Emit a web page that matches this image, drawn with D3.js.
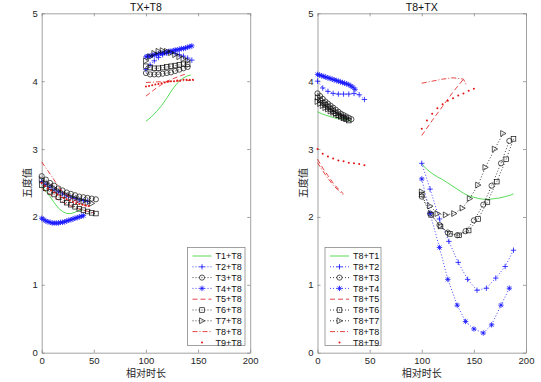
<!DOCTYPE html>
<html><head><meta charset="utf-8">
<script src="https://cdn.jsdelivr.net/npm/d3@7"></script>
<style>
body{margin:0;background:#fff}
svg{display:block}
text{font-family:"Liberation Sans",Arial,Helvetica,sans-serif}
.cjk{font-family:"Noto Sans CJK SC","Noto Sans",sans-serif}
</style>
</head><body><svg id="c" width="541" height="382"></svg>
<script>
// ---------------- data ----------------
const titles = ["TX+T8", "T8+TX"];
const yLabel = "五度值";
const xLabel = "相对时长";
const xTicks = [0, 50, 100, 150, 200];
const yTicks = [0, 1, 2, 3, 4, 5];
const leftNames  = ["T1+T8","T2+T8","T3+T8","T4+T8","T5+T8","T6+T8","T7+T8","T8+T8","T9+T8"];
const rightNames = ["T8+T1","T8+T2","T8+T3","T8+T4","T8+T5","T8+T6","T8+T7","T8+T8","T8+T9"];

// Left panel (TX+T8); null separates the TX part and the T8 part
const L1x = [0,4,8,12,16,20,24,28,32,36,39,null,100,105,110,115,120,125,130,135,140,143];
const L1y = [2.45,2.38,2.30,2.21,2.13,2.08,2.05,2.05,2.07,2.10,2.11,null,3.41,3.47,3.55,3.64,3.75,3.87,3.97,4.04,4.08,4.09];
const L2x = [0,4,8,12,16,20,24,28,32,36,40,44,null,100,104,108,112,116,120,124,128,132,136,140,144];
const L2y = [2.52,2.48,2.44,2.40,2.37,2.34,2.31,2.29,2.27,2.25,2.24,2.23,null,4.17,4.24,4.30,4.35,4.39,4.41,4.42,4.41,4.39,4.37,4.34,4.31];
const L3x = [0,4,8,12,16,20,24,28,32,36,40,44,48,52,null,100,104,108,112,116,120,124,128,132,136,140];
const L3y = [2.60,2.55,2.50,2.46,2.42,2.39,2.36,2.34,2.32,2.30,2.29,2.28,2.27,2.26,null,4.12,4.10,4.10,4.10,4.11,4.12,4.13,4.15,4.17,4.19,4.21];
const L4x = [0,2,4,6,8,10,12,14,16,18,20,22,24,26,28,30,32,34,36,38,40,null,100,102,104,106,108,110,112,114,116,118,120,122,124,126,128,130,132,134,136,138,140,142,144];
const L4y = [1.98,1.96,1.94,1.93,1.92,1.91,1.91,1.91,1.91,1.92,1.92,1.93,1.94,1.95,1.96,1.97,1.98,1.99,2.00,2.01,2.02,null,4.36,4.37,4.37,4.38,4.39,4.39,4.40,4.41,4.41,4.42,4.43,4.44,4.44,4.45,4.46,4.46,4.47,4.48,4.48,4.49,4.50,4.51,4.52];
const L5x = [0,5,10,15,20,25,30,35,40,45,50,null,100,105,110,115,120,125,130,135,140];
const L5y = [2.42,2.36,2.31,2.26,2.22,2.18,2.15,2.12,2.10,2.08,2.06,null,3.78,3.84,3.90,3.95,4.00,4.03,4.06,4.09,4.11];
const L6x = [0,4,8,12,16,20,24,28,32,36,40,44,48,52,null,100,104,108,112,116,120,124,128,132,136,140];
const L6y = [2.47,2.42,2.37,2.33,2.29,2.25,2.21,2.18,2.15,2.12,2.10,2.08,2.06,2.05,null,4.22,4.20,4.19,4.19,4.20,4.21,4.22,4.23,4.24,4.25,4.25];
const L7x = [0,4,8,12,16,20,24,28,32,36,40,44,48,null,100,104,108,112,116,120,124,128,132,136,140];
const L7y = [2.55,2.50,2.46,2.42,2.38,2.35,2.32,2.29,2.27,2.25,2.23,2.21,2.20,null,4.30,4.36,4.41,4.44,4.45,4.44,4.42,4.39,4.36,4.33,4.30];
const L8x = [0,5,10,15,20,25,30,35,40,45,null,100,110,120,130,140,146];
const L8y = [2.81,2.70,2.59,2.47,2.37,2.31,2.26,2.22,2.18,2.15,null,3.98,3.99,3.99,4.00,4.01,4.01];
const L9x = [0,3,6,9,12,15,18,21,24,27,30,33,36,39,42,45,null,100,103,106,109,112,115,118,121,124,127,130,133,136,139,142,145];
const L9y = [2.50,2.46,2.42,2.39,2.36,2.33,2.30,2.28,2.26,2.24,2.22,2.20,2.19,2.18,2.17,2.16,null,3.92,3.93,3.94,3.95,3.96,3.97,3.98,3.99,4.00,4.00,4.01,4.01,4.02,4.02,4.02,4.02];

// Right panel (T8+TX)
const R1x = [0,4,8,12,16,20,24,28,32,null,100,105,110,115,120,125,130,135,140,145,150,155,160,165,170,175,180,185,188];
const R1y = [3.55,3.52,3.50,3.48,3.46,3.45,3.44,3.43,3.42,null,2.78,2.70,2.64,2.59,2.55,2.50,2.45,2.40,2.35,2.31,2.29,2.27,2.26,2.26,2.27,2.28,2.30,2.32,2.34];
const R2x = [0,5,10,15,20,25,30,35,40,45,null,100,108,117,126,135,144,153,162,171,180,188];
const R2y = [4.00,3.90,3.85,3.82,3.81,3.81,3.81,3.82,3.80,3.73,null,2.79,2.41,1.97,1.64,1.33,1.08,0.92,0.95,1.10,1.27,1.51];
const R3x = [0,2.5,5,7.5,10,12.5,15,17.5,20,22.5,25,27.5,30,32.5,null,100,108,117,125,134,142,150,159,167,176,184];
const R3y = [3.82,3.78,3.74,3.70,3.67,3.64,3.61,3.58,3.55,3.52,3.50,3.48,3.46,3.44,null,2.30,2.05,1.88,1.77,1.73,1.79,1.95,2.18,2.46,2.79,3.12];
const R4x = [0,2,4,6,8,10,12,14,16,18,20,22,24,26,28,30,32,34,36,null,100,108,117,125,134,142,150,159,167,176,184];
const R4y = [4.10,4.09,4.08,4.07,4.06,4.05,4.04,4.03,4.02,4.01,4.00,3.99,3.98,3.97,3.96,3.95,3.93,3.91,3.88,null,2.56,2.05,1.55,1.08,0.70,0.46,0.35,0.29,0.41,0.70,0.95];
const R5x = [0,5,10,15,20,25,null,100,110,120,130,140];
const R5y = [2.85,2.72,2.61,2.50,2.41,2.34,null,3.20,3.42,3.63,3.84,4.03];
const R6x = [0,2.5,5,7.5,10,12.5,15,17.5,20,22.5,25,27.5,30,null,100,109,118,127,136,145,154,163,172,181,188];
const R6y = [3.76,3.72,3.68,3.65,3.62,3.59,3.56,3.53,3.50,3.48,3.46,3.44,3.42,null,2.33,2.03,1.86,1.75,1.73,1.80,1.97,2.22,2.52,2.85,3.15];
const R7x = [0,2.5,5,7.5,10,12.5,15,17.5,20,22.5,25,27.5,null,100,108,115,123,131,139,146,154,161,170,178];
const R7y = [3.70,3.67,3.64,3.61,3.59,3.56,3.54,3.52,3.50,3.48,3.46,3.45,null,2.37,2.16,2.05,2.03,2.05,2.13,2.27,2.47,2.73,3.00,3.23];
const R8x = [0,5,10,15,20,24,null,100,110,120,130,140,143];
const R8y = [2.80,2.68,2.57,2.47,2.39,2.33,null,3.97,4.00,4.03,4.05,4.03,3.94];
const R9x = [0,5,10,15,20,25,30,35,40,45,null,100,105,110,115,120,125,130,135,140,145,150];
const R9y = [3.00,2.93,2.89,2.86,2.83,2.82,2.80,2.79,2.78,2.76,null,3.30,3.42,3.52,3.60,3.66,3.71,3.75,3.79,3.82,3.86,3.89];

const leftX  = [L1x,L2x,L3x,L4x,L5x,L6x,L7x,L8x,L9x];
const leftY  = [L1y,L2y,L3y,L4y,L5y,L6y,L7y,L8y,L9y];
const rightX = [R1x,R2x,R3x,R4x,R5x,R6x,R7x,R8x,R9x];
const rightY = [R1y,R2y,R3y,R4y,R5y,R6y,R7y,R8y,R9y];

// ---------------- styles ----------------
const GREEN = "#2fd22f", BLUE = "#1414ff", BLACK = "#111", RED = "#e01515";
const styles = [
  {color:GREEN, dash:null,      marker:null},
  {color:BLUE,  dash:"1,2",     marker:"plus"},
  {color:BLACK, dash:"1,2",     marker:"circle"},
  {color:BLUE,  dash:"1,2",     marker:"star"},
  {color:RED,   dash:"5,3",     marker:null},
  {color:BLACK, dash:"1,2",     marker:"square"},
  {color:BLACK, dash:"1,2",     marker:"tri"},
  {color:RED,   dash:"5,2,1,2", marker:null},
  {color:RED,   dash:"none",    marker:"dot"}
];

const svg = d3.select("#c");
const yScale = d3.scaleLinear().domain([0,5]).range([352.7, 13.3]);
const panels = [
  {x0:41.7, x1:250.2, title:titles[0], names:leftNames,  X:leftX,  Y:leftY,  leg:[187.5, 245]},
  {x0:317.5, x1:526,  title:titles[1], names:rightNames, X:rightX, Y:rightY, leg:[325, 381]}
];
const AX = "#8a8a8a", TXT = "#262626";
const fmt = d3.format("d");

function drawMarker(g, type, color, cx, cy) {
  const s = 2.7;
  if (type === "plus") {
    g.append("path").attr("d", `M${cx-s},${cy}H${cx+s}M${cx},${cy-s}V${cy+s}`)
      .attr("stroke", color).attr("stroke-width", 0.8).attr("fill", "none");
  } else if (type === "star") {
    const a = s*0.72;
    g.append("path").attr("d", `M${cx-s},${cy}H${cx+s}M${cx},${cy-s}V${cy+s}M${cx-a},${cy-a}L${cx+a},${cy+a}M${cx-a},${cy+a}L${cx+a},${cy-a}`)
      .attr("stroke", color).attr("stroke-width", 0.8).attr("fill", "none");
  } else if (type === "circle") {
    g.append("circle").attr("cx", cx).attr("cy", cy).attr("r", 2.6)
      .attr("stroke", color).attr("stroke-width", 0.7).attr("fill", "none");
  } else if (type === "square") {
    g.append("rect").attr("x", cx-2.3).attr("y", cy-2.3).attr("width", 4.6).attr("height", 4.6)
      .attr("stroke", color).attr("stroke-width", 0.7).attr("fill", "none");
  } else if (type === "tri") {
    g.append("path").attr("d", `M${cx-2.4},${cy-2.9}L${cx+2.9},${cy}L${cx-2.4},${cy+2.9}Z`)
      .attr("stroke", color).attr("stroke-width", 0.7).attr("fill", "none");
  } else if (type === "dot") {
    g.append("circle").attr("cx", cx).attr("cy", cy).attr("r", 1.0).attr("fill", color);
  }
}

panels.forEach(p => {
  const x = d3.scaleLinear().domain([0,200]).range([p.x0, p.x1]);
  const g = svg.append("g");
  const y0 = yScale(0), y1 = yScale(5);

  // axes (ticks inside, box on)
  const ax = g.append("g").attr("class", "axes");
  const bottom = ax.append("g").attr("transform", `translate(0,${y0})`)
    .call(d3.axisBottom(x).tickValues(xTicks).tickSize(-3).tickSizeOuter(0).tickPadding(4).tickFormat(fmt));
  ax.append("g").attr("transform", `translate(0,${y1})`)
    .call(d3.axisTop(x).tickValues(xTicks).tickSize(-3).tickSizeOuter(0).tickFormat(""));
  ax.append("g").attr("transform", `translate(${p.x0},0)`)
    .call(d3.axisLeft(yScale).tickValues(yTicks).tickSize(-3).tickSizeOuter(0).tickPadding(4).tickFormat(fmt));
  ax.append("g").attr("transform", `translate(${p.x1},0)`)
    .call(d3.axisRight(yScale).tickValues(yTicks).tickSize(-3).tickSizeOuter(0).tickFormat(""));
  ax.selectAll(".domain").attr("stroke", AX).attr("stroke-width", 0.8);
  ax.selectAll(".tick line").attr("stroke", AX).attr("stroke-width", 0.8);
  ax.selectAll(".tick text").attr("fill", TXT).style("font-size", "9.5px")
    .style("font-family", '"Liberation Sans",Arial,Helvetica,sans-serif');
  bottom.selectAll(".tick text").attr("dy", "0.75em");

  // series
  const line = d3.line().defined(d => d[1] !== null).x(d => x(d[0])).y(d => yScale(d[1]));
  p.X.forEach((xs, i) => {
    const st = styles[i];
    const pts = xs.map((v, k) => [v, p.Y[i][k]]);
    if (st.dash !== "none") {
      g.append("path").datum(pts).attr("d", line).attr("fill", "none")
        .attr("stroke", st.color).attr("stroke-width", 0.8)
        .attr("stroke-dasharray", st.dash);
    }
    if (st.marker) {
      const mg = g.append("g");
      pts.filter(d => d[1] !== null).forEach(d => drawMarker(mg, st.marker, st.color, x(d[0]), yScale(d[1])));
    }
  });

  // title
  g.append("text").attr("x", (p.x0+p.x1)/2).attr("y", 10.5).attr("text-anchor", "middle")
    .attr("fill", "#111").style("font-size", "10.5px").text(p.title);
  // x label
  g.append("text").attr("class", "cjk").attr("x", (p.x0+p.x1)/2).attr("y", 377).attr("text-anchor", "middle")
    .attr("fill", TXT).style("font-size", "10px").text(xLabel);
  // y label
  g.append("text").attr("class", "cjk")
    .attr("transform", `translate(${p.x0-11},${(y0+y1)/2}) rotate(-90)`)
    .attr("text-anchor", "middle").attr("fill", TXT).style("font-size", "10px").text(yLabel);

  // legend
  const [lx0, lx1] = p.leg;
  const ly0 = 247.5, ly1 = 345.5, rowH = 10.8, firstRow = 256;
  const lg = g.append("g");
  lg.append("rect").attr("x", lx0).attr("y", ly0).attr("width", lx1-lx0).attr("height", ly1-ly0)
    .attr("fill", "#fff").attr("stroke", AX).attr("stroke-width", 0.8);
  p.names.forEach((nm, i) => {
    const st = styles[i];
    const cy = firstRow + i*rowH;
    if (st.dash !== "none") {
      lg.append("line").attr("x1", lx0+5).attr("x2", lx0+24).attr("y1", cy).attr("y2", cy)
        .attr("stroke", st.color).attr("stroke-width", 0.8).attr("stroke-dasharray", st.dash);
    }
    if (st.marker) drawMarker(lg, st.marker, st.color, lx0+14.5, cy);
    lg.append("text").attr("x", lx0+28).attr("y", cy).attr("dy", "0.35em")
      .attr("fill", "#111").style("font-size", "9px").text(nm);
  });
});
</script></body></html>
